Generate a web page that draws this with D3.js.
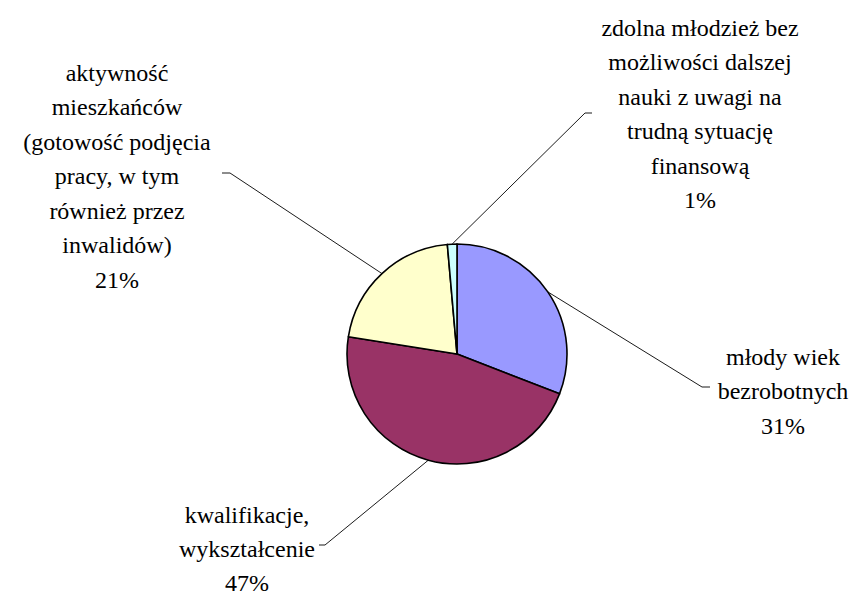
<!DOCTYPE html>
<html>
<head>
<meta charset="utf-8">
<script src="https://cdn.jsdelivr.net/npm/d3@7"></script>
</head>
<body style="margin:0">
<svg id="chart" width="860" height="592"></svg>
<script>
// pie of factors (clockwise from 12 o'clock)
var categories = [
  ["młody wiek", "bezrobotnych"],
  ["kwalifikacje,", "wykształcenie"],
  ["aktywność", "mieszkańców", "(gotowość podjęcia", "pracy, w tym", "również przez", "inwalidów)"],
  ["zdolna młodzież bez", "możliwości dalszej", "nauki z uwagi na", "trudną sytuację", "finansową"]
];
var values = [30.9, 46.6, 21.1, 1.4];
var colors = ["#9999FF", "#993366", "#FFFFCC", "#CCFFFF"];

// label layout: centre x, first row centre y, leader elbow, side of tick
var labelPos = [
  {x: 783, y: 357, ex: 702, ey: 387, tick: 8},
  {x: 247, y: 515, ex: 325, ey: 545, tick: -6},
  {x: 117, y: 73,  ex: 230, ey: 173, tick: -8},
  {x: 700, y: 28,  ex: 585, ey: 113, tick: 7}
];

var cx = 457, cy = 354, r = 110;
var lineH = 34.5, fontSize = 24;

var svg = d3.select("#chart");
var g = svg.append("g").attr("transform", "translate(" + cx + "," + cy + ")");

var pie = d3.pie().sort(null).value(function(d) { return d; });
var arcs = pie(values);
var total = d3.sum(values);
var arc = d3.arc().innerRadius(0).outerRadius(r);

// labels first, one text element per row
arcs.forEach(function(a, i) {
  var p = labelPos[i];
  var lines = categories[i].concat([Math.round(a.value / total * 100) + "%"]);
  lines.forEach(function(s, k) {
    svg.append("text")
      .attr("x", p.x)
      .attr("y", p.y + k * lineH + fontSize * 0.33 - (k == 2 && i == 1 ? 1 : 0))
      .attr("text-anchor", "middle")
      .style("font-family", "'Liberation Serif'")
      .style("font-size", fontSize + "px")
      .text(s);
  });
});

g.selectAll("path.slice")
  .data(arcs)
  .enter().append("path")
  .attr("class", "slice")
  .attr("d", arc)
  .attr("fill", function(d, i) { return colors[i]; })
  .attr("stroke", "#000")
  .attr("stroke-width", 1.6)
  .attr("stroke-linejoin", "round");

// leader lines: from arc midpoint to elbow, then short horizontal tick
arcs.forEach(function(a, i) {
  var mid = (a.startAngle + a.endAngle) / 2;
  var sx = cx + r * Math.sin(mid), sy = cy - r * Math.cos(mid);
  var p = labelPos[i];
  svg.append("polyline")
    .attr("points", [[sx, sy], [p.ex, p.ey], [p.ex + p.tick, p.ey]].join(" "))
    .attr("fill", "none")
    .attr("stroke", "#000")
    .attr("stroke-width", 0.9);
});
</script>
</body>
</html>
